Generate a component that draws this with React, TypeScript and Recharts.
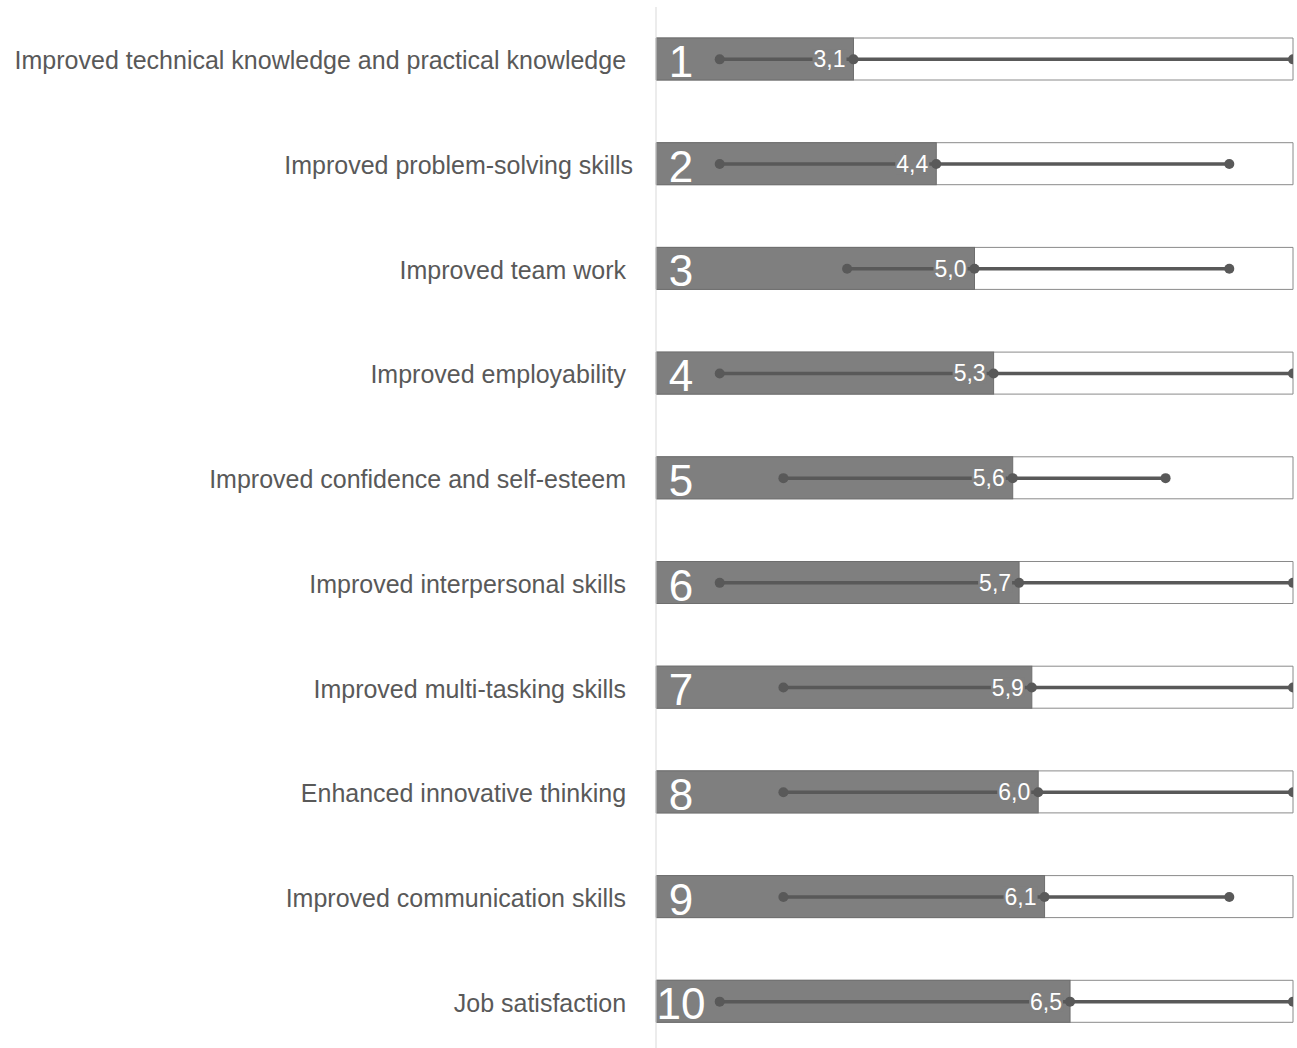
import { Bar, ComposedChart, ErrorBar, Scatter, XAxis, YAxis } from 'recharts'

// labels keep the trailing space of the source (row 2 has none)
const categories = [
  'Improved technical knowledge and practical knowledge\u00a0',
  'Improved problem-solving skills',
  'Improved team work\u00a0',
  'Improved employability\u00a0',
  'Improved confidence and self-esteem\u00a0',
  'Improved interpersonal skills\u00a0',
  'Improved multi-tasking skills\u00a0',
  'Enhanced innovative thinking\u00a0',
  'Improved communication skills\u00a0',
  'Job satisfaction\u00a0',
]
const ranks = [1, 2, 3, 4, 5, 6, 7, 8, 9, 10]
const means = [3.1, 4.4, 5.0, 5.3, 5.6, 5.7, 5.9, 6.0, 6.1, 6.5]
const mins = [1, 1, 3, 1, 2, 1, 2, 2, 2, 1]
const maxs = [10, 9, 9, 10, 8, 10, 10, 10, 9, 10]
const scaleDomain = [0, 10]

const FONT = '"Liberation Sans", Arial, sans-serif'
const GRAY = '#7f7f7f'
const GRAY_EDGE = '#6e6e6e'
const LINE = '#595959'
const TEXT = '#595959'

const chartData = categories.map((name, i) => ({
  name,
  rank: ranks[i],
  mean: means[i],
  min: mins[i],
  max: maxs[i],
  err: [means[i] - mins[i], maxs[i] - means[i]],
}))

function CategoryTick(props: any) {
  const { x, y, payload } = props
  return (
    <text x={x} y={y} dy={10} textAnchor="end" fill={TEXT} fontSize={25} fontFamily={FONT}>
      {payload.value}
    </text>
  )
}

function RankBar(props: any) {
  const { x, y, width, height, payload } = props
  return (
    <g>
      <rect x={x} y={y} width={width} height={height} fill={GRAY} stroke={GRAY_EDGE} strokeWidth={1} />
      <text
        x={x + 25}
        y={y + height / 2 + 18}
        textAnchor="middle"
        fill="#fff"
        fontSize={44}
        fontFamily={FONT}
      >
        {payload.rank}
      </text>
    </g>
  )
}

function EndDot(props: any) {
  const { cx, cy } = props
  if (cx == null || cy == null) return null
  return <circle cx={cx} cy={cy} r={5} fill={LINE} />
}

function MeanDot(props: any) {
  const { cx, cy, payload } = props
  if (cx == null || cy == null) return null
  const label = payload.mean.toFixed(1).replace('.', ',')
  const fontSize = 23
  const textW = label.split('').reduce((s: number, ch: string) => s + (ch === ',' ? 0.278 : 0.556), 0) * fontSize
  const right = cx - 8
  return (
    <g>
      <rect x={right - textW - 1} y={cy - 10} width={textW + 2} height={20} fill={GRAY} />
      <text x={right} y={cy + 8} textAnchor="end" fill="#fff" fontSize={fontSize} fontFamily={FONT}>
        {label}
      </text>
      <circle cx={cx} cy={cy} r={5} fill={LINE} />
    </g>
  )
}

export default function App() {
  return (
    <div
      style={{
        position: 'absolute',
        left: 0,
        top: 0,
        width: 1297,
        height: 1048,
        overflow: 'hidden',
        background: '#fff',
        fontFamily: FONT,
      }}
    >
      <ComposedChart
        width={1297}
        height={1060}
        data={chartData}
        layout="vertical"
        margin={{ top: 7, right: 4, bottom: 6, left: 0 }}
      >
        <XAxis type="number" domain={scaleDomain} hide allowDataOverflow />
        <YAxis
          type="category"
          dataKey="name"
          width={656}
          interval={0}
          axisLine={{ stroke: '#d9d9d9', strokeWidth: 1 }}
          tickLine={false}
          tickSize={0}
          tickMargin={23}
          tick={<CategoryTick />}
        />
        <Bar
          dataKey="mean"
          barSize={42}
          background={{ fill: '#ffffff', stroke: '#8a8a8a', strokeWidth: 1 }}
          shape={<RankBar />}
          isAnimationActive={false}
        />
        <Scatter dataKey="min" shape={<EndDot />} isAnimationActive={false} />
        <Scatter dataKey="max" shape={<EndDot />} isAnimationActive={false} />
        <Scatter dataKey="mean" shape={<MeanDot />} isAnimationActive={false}>
          <ErrorBar dataKey="err" direction="x" width={0} stroke={LINE} strokeWidth={3.5} />
        </Scatter>
      </ComposedChart>
    </div>
  )
}
